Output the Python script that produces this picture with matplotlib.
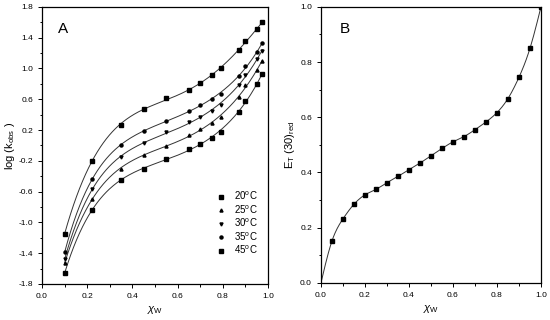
import numpy as np
import matplotlib
matplotlib.use("Agg")
import matplotlib.pyplot as plt
from matplotlib.ticker import MultipleLocator

plt.rcParams['font.family'] = ['Liberation Sans', 'DejaVu Sans']
plt.rcParams['mathtext.fontset'] = 'custom'
plt.rcParams['mathtext.rm'] = 'Liberation Sans'
plt.rcParams['mathtext.it'] = 'Liberation Sans:italic'

# panel A: log(k_obs) vs water mole fraction
xw_a = [0.10, 0.22, 0.35, 0.45, 0.55, 0.65, 0.70, 0.75, 0.79, 0.87, 0.90, 0.95, 0.975]
logk_20 = [-1.66, -0.84, -0.45, -0.30, -0.18, -0.05, 0.02, 0.10, 0.18, 0.44, 0.58, 0.80, 0.93]
logk_25 = [-1.53, -0.70, -0.30, -0.12, -0.01, 0.13, 0.21, 0.29, 0.37, 0.63, 0.78, 0.98, 1.10]
logk_30 = [-1.48, -0.57, -0.15, 0.03, 0.17, 0.30, 0.37, 0.45, 0.53, 0.78, 0.92, 1.12, 1.23]
logk_35 = [-1.39, -0.44, 0.00, 0.19, 0.32, 0.45, 0.52, 0.60, 0.67, 0.90, 1.03, 1.21, 1.33]
logk_45 = [-1.15, -0.20, 0.27, 0.47, 0.61, 0.72, 0.81, 0.91, 1.00, 1.24, 1.36, 1.51, 1.60]
temps = ['20', '25', '30', '35', '45']
markers = ['s', '^', 'v', 'o', 's']

# panel B: reduced E_T(30)
xw_b = [0.0, 0.05, 0.10, 0.15, 0.20, 0.25, 0.30, 0.35, 0.40, 0.45, 0.50,
        0.55, 0.60, 0.65, 0.70, 0.75, 0.80, 0.85, 0.90, 0.95, 1.0]
et_red = [0.0, 0.152, 0.232, 0.285, 0.319, 0.339, 0.363, 0.386, 0.410, 0.434, 0.461,
          0.487, 0.511, 0.530, 0.555, 0.583, 0.617, 0.668, 0.745, 0.850, 1.0]

x_ticks = [0.0, 0.2, 0.4, 0.6, 0.8, 1.0]
ya_ticks = [-1.8, -1.4, -1.0, -0.6, -0.2, 0.2, 0.6, 1.0, 1.4, 1.8]
yb_ticks = [0.0, 0.2, 0.4, 0.6, 0.8, 1.0]


def natural_spline(x, y, xs):
    x = np.asarray(x, float)
    y = np.asarray(y, float)
    n = len(x)
    h = np.diff(x)
    A = np.zeros((n, n))
    r = np.zeros(n)
    A[0, 0] = A[-1, -1] = 1
    for i in range(1, n - 1):
        A[i, i - 1] = h[i - 1]
        A[i, i] = 2 * (h[i - 1] + h[i])
        A[i, i + 1] = h[i]
        r[i] = 6 * ((y[i + 1] - y[i]) / h[i] - (y[i] - y[i - 1]) / h[i - 1])
    m = np.linalg.solve(A, r)
    k = np.clip(np.searchsorted(x, xs) - 1, 0, n - 2)
    t = xs - x[k]
    hk = h[k]
    a = (m[k + 1] - m[k]) / (6 * hk)
    b = m[k] / 2
    c = (y[k + 1] - y[k]) / hk - hk * (2 * m[k] + m[k + 1]) / 6
    return y[k] + c * t + b * t ** 2 + a * t ** 3


def style_axes(ax, yticks):
    ax.set_xticks(x_ticks)
    ax.set_xticklabels(['%.1f' % v for v in x_ticks])
    ax.set_yticks(yticks)
    ax.set_yticklabels(['%.1f' % v for v in yticks])
    ax.xaxis.set_minor_locator(MultipleLocator(0.1))
    ax.yaxis.set_minor_locator(MultipleLocator((yticks[1] - yticks[0]) / 2))
    ax.tick_params(which='both', direction='out', top=False, right=False,
                   labelsize=6, width=0.7)
    ax.tick_params(which='major', length=3)
    ax.tick_params(which='minor', length=1.8)
    for s in ax.spines.values():
        s.set_linewidth(0.9)


fig = plt.figure(figsize=(5.5, 3.2), dpi=100)
ax1 = fig.add_axes([0.0764, 0.1125, 0.411, 0.866])
ax2 = fig.add_axes([0.5836, 0.116, 0.400, 0.8625])

# panel A
series = [logk_20, logk_25, logk_30, logk_35, logk_45]
xfit = np.linspace(xw_a[0], xw_a[-1], 200)
for vals, t, m in zip(series, temps, markers):
    coef = np.polyfit(xw_a, vals, 5)
    ax1.plot(xfit, np.polyval(coef, xfit), color='#333333', lw=0.7)
    ax1.plot(xw_a, vals, ls='none', marker=m, ms=2.2, color='black',
             label=t + '$^\\mathrm{o}$C')
ax1.set_xlim(0, 1.0)
ax1.set_ylim(-1.8, 1.8)
style_axes(ax1, ya_ticks)
ax1.set_xlabel('$\\chi_\\mathrm{W}$', fontsize=8, labelpad=3)
ax1.set_ylabel('log (k$_\\mathrm{obs}$ )', fontsize=8, labelpad=1)
ax1.text(0.07, 0.92, 'A', transform=ax1.transAxes, fontsize=11,
         ha='left', va='center')
ax1.legend(loc='lower right', bbox_to_anchor=(0.985, 0.075), frameon=False,
           fontsize=7, handletextpad=0.9, labelspacing=0.12,
           handlelength=1.0, borderpad=0.2)

# panel B
xs = np.linspace(0, 1, 300)
ax2.plot(xs, natural_spline(xw_b, et_red, xs), color='#333333', lw=0.7)
ax2.plot(xw_b[1:], et_red[1:], ls='none', marker='s', ms=2.2, color='black')
ax2.set_xlim(0, 1.0)
ax2.set_ylim(0, 1.0)
style_axes(ax2, yb_ticks)
ax2.set_xlabel('$\\chi_\\mathrm{W}$', fontsize=8, labelpad=3)
ax2.set_ylabel('E$_\\mathrm{T}$ (30)$_\\mathrm{red}$', fontsize=8, labelpad=2)
ax2.text(0.086, 0.92, 'B', transform=ax2.transAxes, fontsize=11,
         ha='left', va='center')

fig.savefig('out.png', dpi=100)
